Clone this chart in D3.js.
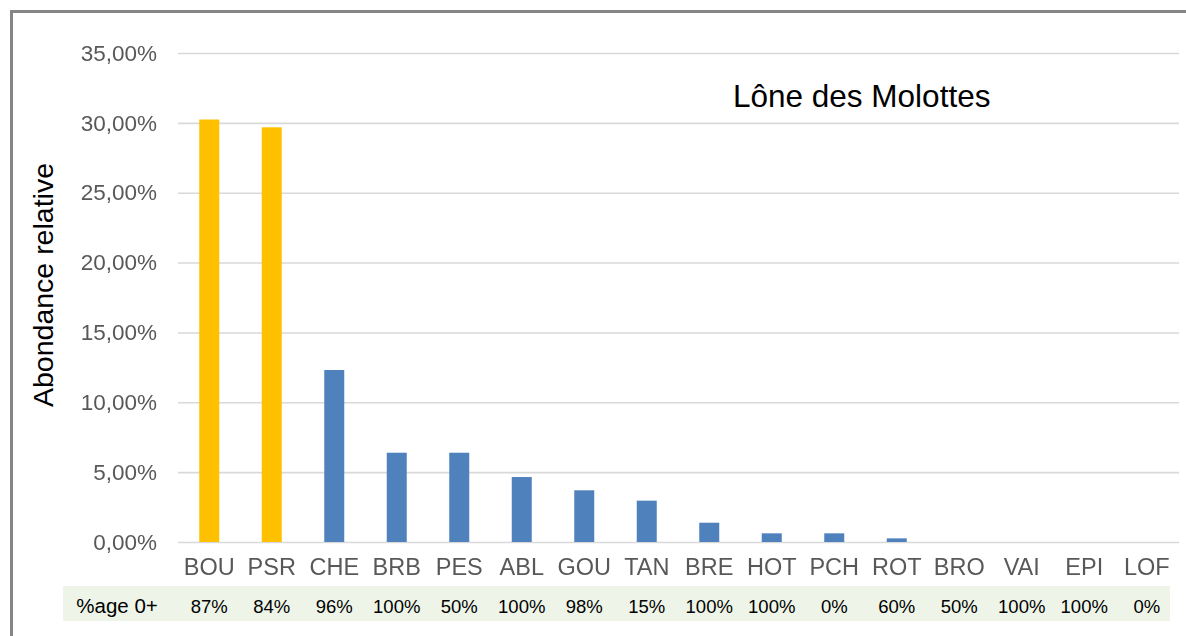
<!DOCTYPE html>
<html>
<head>
<meta charset="utf-8">
<script src="https://cdn.jsdelivr.net/npm/d3@7"></script>
<style>
  html, body { margin: 0; padding: 0; background: #fff; }
  svg { display: block; }
</style>
</head>
<body>
<svg id="chart" width="1186" height="636"></svg>
<script>
// Species codes and relative abundance (fraction of catch)
const species = ["BOU","PSR","CHE","BRB","PES","ABL","GOU","TAN","BRE","HOT","PCH","ROT","BRO","VAI","EPI","LOF"];
const abundance = [0.3024,0.2968,0.1231,0.0639,0.0639,0.0465,0.0370,0.0296,0.0138,0.0062,0.0062,0.0026,0,0,0,0];
// Share of young-of-the-year (0+) per species
const age0 = ["87%","84%","96%","100%","50%","100%","98%","15%","100%","100%","0%","60%","50%","100%","100%","0%"];
// Species highlighted in orange
const highlighted = ["BOU","PSR"];
const yTicks = [0,0.05,0.10,0.15,0.20,0.25,0.30,0.35];

const svg = d3.select("#chart");
const W = 1186, H = 636;
const font = "Liberation Sans, Arial, sans-serif";

const defs = svg.append("defs");
defs.append("filter").attr("id","soft")
  .append("feGaussianBlur").attr("stdDeviation", 0.55);

// outer frame: only the top and left edges fall inside the view
svg.append("path")
  .attr("d", `M11.5,${H + 5} V11.5 H${W + 5}`)
  .attr("fill", "none")
  .attr("stroke", "#858585")
  .attr("stroke-width", 3);

const x = d3.scaleBand()
  .domain(species)
  .range([178, 1178])
  .paddingInner(0.68)
  .paddingOuter(0.34);

const y = d3.scaleLinear()
  .domain([0, 0.35])
  .range([542, 53]);

const fmt = v => d3.format(".2f")(v * 100).replace(".", ",") + "%";

// gridlines + tick labels
const yAxis = d3.axisLeft(y)
  .tickValues(yTicks)
  .tickSize(-1001)
  .tickPadding(21)
  .tickFormat(fmt);

const gy = svg.append("g")
  .attr("transform", "translate(178,0)")
  .call(yAxis);
gy.select(".domain").remove();
gy.selectAll(".tick line")
  .attr("stroke", "#d9d9d9")
  .attr("stroke-width", 1.6);
gy.selectAll(".tick text")
  .attr("fill", "#595959")
  .attr("font-family", font)
  .attr("font-size", 22.5)
  .attr("filter", "url(#soft)");

// bars
svg.append("g").selectAll("rect")
  .data(species.map((s, i) => ({ s, v: abundance[i] })))
  .join("rect")
  .attr("x", d => x(d.s))
  .attr("width", x.bandwidth())
  .attr("y", d => y(d.v))
  .attr("height", d => y(0) - y(d.v))
  .attr("fill", d => highlighted.includes(d.s) ? "#ffc000" : "#4f81bd");

// category labels
const xAxis = d3.axisBottom(x).tickSize(0).tickPadding(16);
const gx = svg.append("g")
  .attr("transform", "translate(0,542)")
  .call(xAxis);
gx.select(".domain").remove();
gx.selectAll(".tick text")
  .attr("fill", "#595959")
  .attr("font-family", font)
  .attr("font-size", 23.5)
  .attr("filter", "url(#soft)");

// 0+ share row
svg.append("rect")
  .attr("x", 63).attr("y", 586)
  .attr("width", 1107).attr("height", 35)
  .attr("fill", "#eef5e8");

svg.append("text")
  .attr("x", 117).attr("y", 605)
  .attr("text-anchor", "middle")
  .attr("dominant-baseline", "central")
  .attr("font-family", font)
  .attr("font-size", 20.5)
  .attr("fill", "#000")
  .text("%age 0+");

svg.append("g").selectAll("text")
  .data(species.map((s, i) => ({ s, t: age0[i] })))
  .join("text")
  .attr("x", d => x(d.s) + x.bandwidth() / 2)
  .attr("y", 606)
  .attr("text-anchor", "middle")
  .attr("dominant-baseline", "central")
  .attr("font-family", font)
  .attr("font-size", 18.5)
  .attr("fill", "#000")
  .text(d => d.t);

// title
svg.append("text")
  .attr("x", 733).attr("y", 107)
  .attr("font-family", font)
  .attr("font-size", 31.5)
  .attr("fill", "#000")
  .text("Lône des Molottes");

// y axis title
svg.append("text")
  .attr("transform", "translate(53,285) rotate(-90)")
  .attr("text-anchor", "middle")
  .attr("font-family", font)
  .attr("font-size", 28.5)
  .attr("fill", "#000")
  .text("Abondance relative");
</script>
</body>
</html>
